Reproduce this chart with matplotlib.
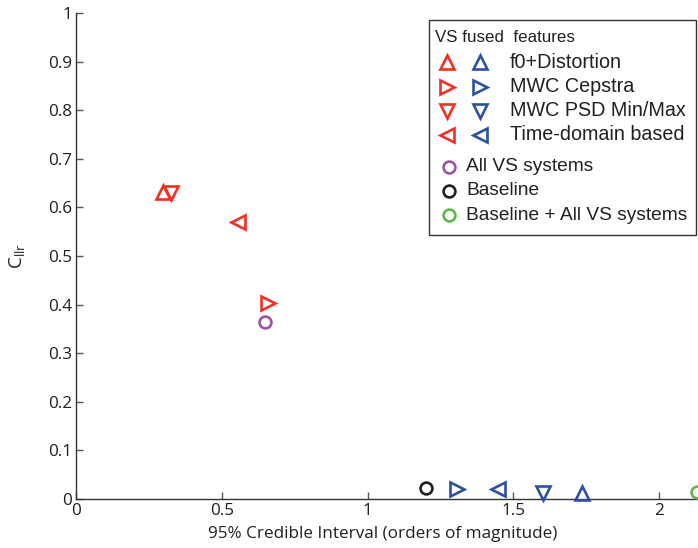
import matplotlib
matplotlib.use('Agg')
import matplotlib.pyplot as plt
from matplotlib.lines import Line2D
from matplotlib.patches import Rectangle

# --- data ---
feature_names = ['f0+Distortion', 'MWC Cepstra', 'MWC PSD Min/Max', 'Time-domain based']
feature_markers = ['^', '>', 'v', '<']

# VS fused (red)
fused_ci = [0.300, 0.660, 0.326, 0.556]
fused_cllr = [0.632, 0.403, 0.630, 0.570]

# features (blue)
feat_ci = [1.735, 1.308, 1.601, 1.449]
feat_cllr = [0.012, 0.020, 0.012, 0.020]

system_names = ['All VS systems', 'Baseline', 'Baseline + All VS systems']
system_ci = [0.648, 1.200, 2.130]
system_cllr = [0.364, 0.022, 0.014]

RED = '#EE3124'
BLUE = '#2E50A4'
system_colors = ['#A052A2', '#231F20', '#5CB947']

W, H = 698, 548
fig = plt.figure(figsize=(W / 100, H / 100), dpi=100)
plt.rcParams['font.family'] = ['Open Sans', 'DejaVu Sans']

ax = fig.add_axes([76 / W, 49 / H, 2.2 * 291.5 / W, 486 / H])

mkw = dict(markersize=9.5, markerfacecolor='none', markeredgewidth=1.9,
           linestyle='none', clip_on=False, zorder=5)
for i in range(4):
    ax.plot(fused_ci[i], fused_cllr[i], marker=feature_markers[i], color=RED, **mkw)
    ax.plot(feat_ci[i], feat_cllr[i], marker=feature_markers[i], color=BLUE, **mkw)
for i in range(3):
    ax.plot(system_ci[i], system_cllr[i], marker='o', color=system_colors[i],
            **dict(mkw, markersize=8.5))

ax.set_xlim(0, 2.2)
ax.set_ylim(0, 1)
ax.set_xticks([0, 0.5, 1, 1.5, 2])
ax.set_xticklabels(['0', '0.5', '1', '1.5', '2'])
ax.set_yticks([i / 10 for i in range(11)])
ax.set_yticklabels(['0'] + ['0.%d' % i for i in range(1, 10)] + ['1'])
for s in ['top', 'right']:
    ax.spines[s].set_visible(False)
for s in ['left', 'bottom']:
    ax.spines[s].set_color('#333333')
    ax.spines[s].set_linewidth(1.0)
ax.tick_params(direction='in', length=5, width=1, color='#555555',
               labelsize=12.3, labelcolor='#231F20', pad=3)
ax.set_xlabel('95% Credible Interval (orders of magnitude)', fontsize=12.3,
              color='#231F20', labelpad=5)
ax.xaxis.label.set_x(0.479)  # visible part of the axis is narrower than the axes
ax.set_ylabel(r'C$_{\mathregular{llr}}$', fontsize=13.5, color='#231F20', labelpad=14)


# --- legend box, laid out in pixels ---
def fx(x):
    return x / W


def fy(y):
    return (H - y) / H


fig.add_artist(Rectangle((fx(429), fy(235)), fx(696) - fx(429), fy(19.5) - fy(235),
                         transform=fig.transFigure, facecolor='white',
                         edgecolor='#333333', linewidth=1.0, zorder=10))
lfont = dict(family=['Liberation Sans', 'DejaVu Sans'], color='#231F20', zorder=11)
fig.text(fx(435), fy(37), 'VS fused  features', fontsize=12.2, va='center', **lfont)

row_y = [62, 86.5, 110.5, 134.5]
for i in range(4):
    fig.add_artist(Line2D([fx(447)], [fy(row_y[i])], marker=feature_markers[i], color=RED,
                          transform=fig.transFigure, **dict(mkw, zorder=11)))
    fig.add_artist(Line2D([fx(480)], [fy(row_y[i])], marker=feature_markers[i], color=BLUE,
                          transform=fig.transFigure, **dict(mkw, zorder=11)))
    fig.text(fx(510), fy(row_y[i]), feature_names[i], fontsize=14.2, va='center', **lfont)

sys_y = [166.5, 190.5, 215]
for i in range(3):
    fig.add_artist(Line2D([fx(449)], [fy(sys_y[i])], marker='o', color=system_colors[i],
                          transform=fig.transFigure, **dict(mkw, markersize=8.5, zorder=11)))
    fig.text(fx(466), fy(sys_y[i]), system_names[i], fontsize=13.8, va='center', **lfont)

fig.savefig('out.png', dpi=100)
